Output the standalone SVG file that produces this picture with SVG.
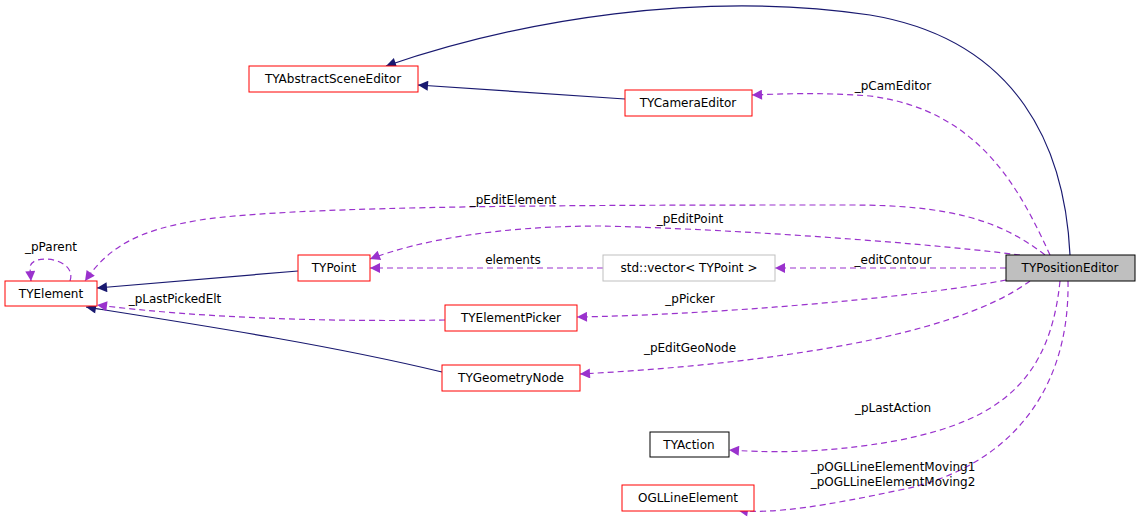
<svg xmlns="http://www.w3.org/2000/svg" width="1140" height="532" viewBox="0 0 1140 532">
<style>
text{font-family:"DejaVu Sans",sans-serif;font-size:12px;fill:#000}
.n rect{fill:#fff;stroke:#ff0000}
.c{text-anchor:middle}
.s{fill:none;stroke:#191970;stroke-width:1.2}
.d{fill:none;stroke:#9a32cd;stroke-width:1.2;stroke-dasharray:6,4}
</style>
<defs>
<marker id="an" viewBox="0 0 10 10" refX="10" refY="5" markerWidth="12" markerHeight="10" markerUnits="userSpaceOnUse" orient="auto"><path d="M0,0L10,5L0,10z" fill="#191970"/></marker>
<marker id="ap" viewBox="0 0 10 10" refX="10" refY="5" markerWidth="12" markerHeight="10" markerUnits="userSpaceOnUse" orient="auto"><path d="M0,0L10,5L0,10z" fill="#9a32cd"/></marker>
</defs>
<rect width="1140" height="532" fill="#fff"/>
<g id="edges">
<path class="s" marker-end="url(#an)" d="M1070,255 C1065,150 1020,40 870,15 C700,-10 520,20 386,66"/>
<path class="s" marker-end="url(#an)" d="M625,99 L418,85"/>
<path class="s" marker-end="url(#an)" d="M298,271 L97,288"/>
<path class="s" marker-end="url(#an)" d="M442,372 C330,345 200,325 86,307"/>
<path class="d" marker-end="url(#ap)" d="M1050,255 C1020,190 980,110 870,96 C820,92 780,94 752,95"/>
<text x="893" y="90" class="c">_pCamEditor</text>
<path class="d" marker-end="url(#ap)" d="M1045,255 C1000,220 950,205 850,205 C600,205 300,205 200,220 C140,230 110,245 85,281"/>
<text x="513" y="204" class="c">_pEditElement</text>
<path class="d" marker-end="url(#ap)" d="M1020,255 C900,240 700,228 600,226 C500,226 420,240 370,259"/>
<text x="690" y="223" class="c">_pEditPoint</text>
<path class="d" marker-end="url(#ap)" d="M1006,268 L775,268"/>
<text x="893" y="264" class="c">_editContour</text>
<path class="d" marker-end="url(#ap)" d="M603,268 L370,268"/>
<text x="513" y="264" class="c">elements</text>
<path class="d" marker-end="url(#ap)" d="M1006,280 C900,300 700,315 577,317"/>
<text x="690" y="303" class="c">_pPicker</text>
<path class="d" marker-end="url(#ap)" d="M445,320 C330,322 200,318 97,305"/>
<text x="175" y="303" class="c">_pLastPickedElt</text>
<path class="d" marker-end="url(#ap)" d="M1030,281 C950,340 750,365 580,374"/>
<text x="690" y="352" class="c">_pEditGeoNode</text>
<path class="d" marker-end="url(#ap)" d="M1060,281 C1050,380 1000,420 900,440 C820,455 760,452 729,450"/>
<text x="893" y="412" class="c">_pLastAction</text>
<path class="d" marker-end="url(#ap)" d="M1068,281 C1070,400 1000,470 900,490 C830,505 770,515 738,510"/>
<text x="893" y="471" class="c">_pOGLLineElementMoving1</text>
<text x="893" y="486" class="c">_pOGLLineElementMoving2</text>
<path class="d" marker-end="url(#ap)" d="M70,281 C78,258 30,252 30,268 L31,281"/>
<text x="51" y="251" class="c">_pParent</text>
</g>
<g id="TYPositionEditor"><rect x="1006" y="255" width="129" height="26" fill="#bfbfbf" stroke="#000"/><text x="1070" y="272" class="c">TYPositionEditor</text></g>
<g id="TYAbstractSceneEditor" class="n"><rect x="249" y="66" width="169" height="26"/><text x="333" y="83" class="c">TYAbstractSceneEditor</text></g>
<g id="TYCameraEditor" class="n"><rect x="625" y="90" width="127" height="26"/><text x="688" y="107" class="c">TYCameraEditor</text></g>
<g id="TYElement" class="n"><rect x="5" y="281" width="92" height="25"/><text x="51" y="298" class="c">TYElement</text></g>
<g id="TYPoint" class="n"><rect x="298" y="255" width="72" height="26"/><text x="334" y="272" class="c">TYPoint</text></g>
<g id="vector"><rect x="603" y="255" width="172" height="26" fill="#fff" stroke="#bfbfbf"/><text x="689" y="272" class="c">std::vector&lt; TYPoint &gt;</text></g>
<g id="TYElementPicker" class="n"><rect x="445" y="305" width="132" height="26"/><text x="511" y="322" class="c">TYElementPicker</text></g>
<g id="TYGeometryNode" class="n"><rect x="442" y="365" width="138" height="26"/><text x="511" y="382" class="c">TYGeometryNode</text></g>
<g id="TYAction"><rect x="650" y="432" width="79" height="25" fill="#fff" stroke="#000"/><text x="689" y="449" class="c">TYAction</text></g>
<g id="OGLLineElement" class="n"><rect x="622" y="485" width="132" height="26"/><text x="688" y="502" class="c">OGLLineElement</text></g>
</svg>
